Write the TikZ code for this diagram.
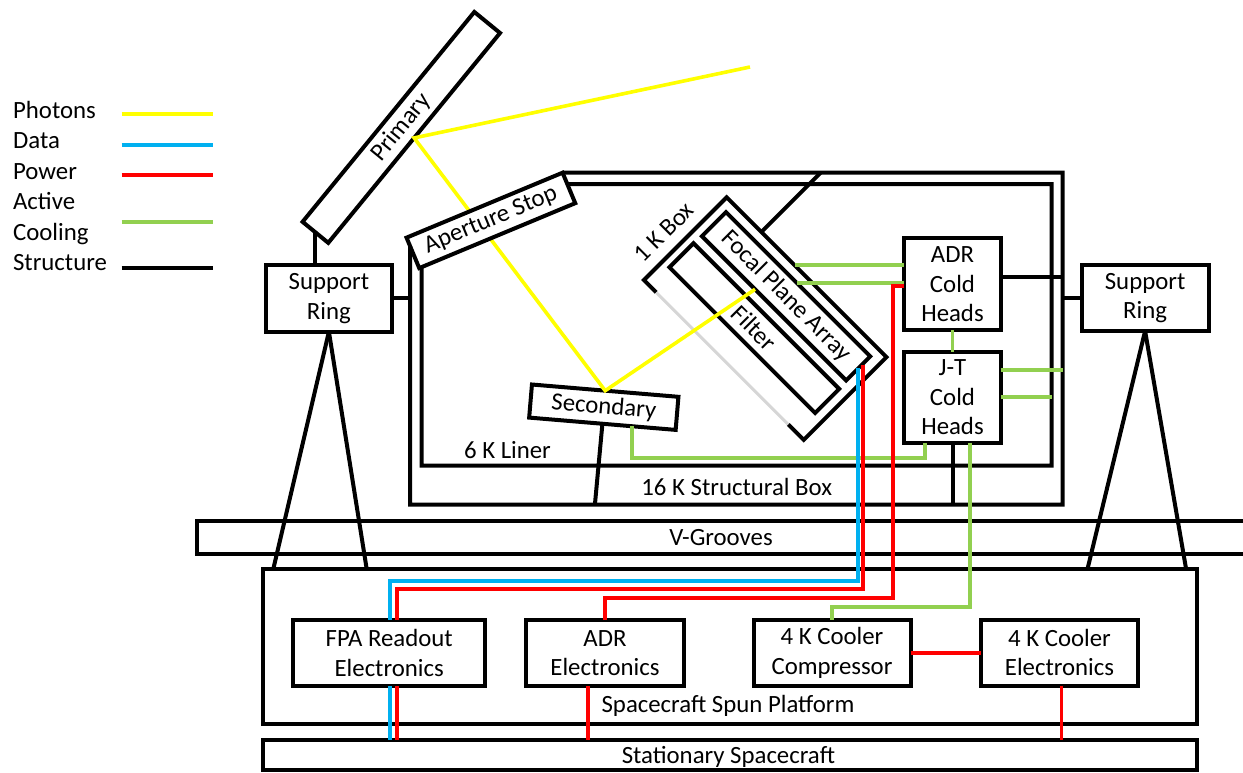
\documentclass[tikz,border=0pt]{standalone}
\usepackage{fontspec}
\setmainfont{Carlito}
\usepackage{tikz}
\usetikzlibrary{calc, positioning}

\definecolor{photonyellow}{HTML}{FFFF00}
\definecolor{datablue}{HTML}{00B0F0}
\definecolor{powerred}{HTML}{FF0000}
\definecolor{coolgreen}{HTML}{92D050}
\definecolor{linergray}{HTML}{D6D6D6}

\begin{document}
\begin{tikzpicture}[
  x=0.5pt, y=-0.5pt,
  every node/.style={font=\fontsize{12.4}{14.8}\selectfont},
  box/.style={draw, line width=2pt, inner sep=0pt, outer sep=0pt, align=center},
  optic/.style={box, fill=white},
  struct/.style={line width=2pt},
  photon/.style={line width=1.8pt, draw=photonyellow},
  data/.style={line width=1.9pt, draw=datablue},
  power/.style={line width=1.9pt, draw=powerred},
  cool/.style={line width=1.9pt, draw=coolgreen},
  liner/.style={line width=1.5pt, draw=linergray},
]
  \useasboundingbox (0,0) rectangle (1243,772);

  % legend
  \foreach \lbl [count=\i] in {Photons,Data,Power,Active,Cooling,Structure}
    \node[anchor=base west, inner sep=0pt] (leg\i) at (12.7,{118.3+30.5*(\i-1)}) {\lbl};
  \foreach \y/\sty in {114/photon,145/data,175/power,221.7/cool,268.3/struct}
    \draw[\sty] (121.7,\y) -- (213.3,\y);

  % support rings and cold heads
  \node[box, minimum width=62.8pt, minimum height=33.3pt] (ringL) at (328.9,298.4) {Support\\Ring};
  \node[box, minimum width=63.5pt, minimum height=33pt] (ringR) at (1145.1,298) {Support\\Ring};
  \node[box, minimum width=48.2pt, minimum height=45.8pt] (adrc) at (952.5,284.2) {ADR\\Cold\\Heads};
  \node[box, minimum width=48.2pt, minimum height=45.5pt] (jt) at (952.5,397.2) {J-T\\Cold\\Heads};

  % platforms
  \node[box, minimum width=536.7pt, minimum height=16.6pt] (vgr) at (733.4,537.7) {};
  \node (vgrlbl) at (721,538) {V-Grooves};
  \node[box, minimum width=466.7pt, minimum height=77.5pt] (spun) at (730,646.5) {};
  \node (spunlbl) at (728,705.7) {Spacecraft Spun Platform};
  \node[box, minimum width=466.7pt, minimum height=15pt] (stat) at (730,755) {};
  \node (statlbl) at (728.4,757) {Stationary Spacecraft};

  \node[box, minimum width=95.9pt, minimum height=33pt] (fparo) at (389.2,653) {FPA Readout\\Electronics};
  \node[box, minimum width=79.2pt, minimum height=33pt] (adre) at (605,653) {ADR\\Electronics};
  \node[box, minimum width=78.5pt, minimum height=33pt] (comp) at (832,653) {4 K Cooler\\Compressor};
  \node[box, minimum width=78.5pt, minimum height=33pt] (coolel) at (1059.5,652.5) {4 K Cooler\\Electronics};

  % 1 K box
  \node[rotate=-45, minimum width=113pt, minimum height=58.5pt, inner sep=0pt, outer sep=0pt] (kbox) at (765.2,318.6) {};
  \node[box, rotate=-45, minimum width=102pt, minimum height=17pt] (fpa) at (786.1,296.3) {Focal Plane Array};
  \node[box, rotate=-45, minimum width=103pt, minimum height=17pt] (filt) at (754.3,328.1) {Filter};
  \draw[struct] ($(kbox.south west)!0.077!(kbox.south east)$) -- (kbox.south west) -- (kbox.north west)
    -- (kbox.north east) -- (kbox.south east) -- ($(kbox.south west)!0.903!(kbox.south east)$);
  \draw[liner] ($(kbox.south west)!0.077!(kbox.south east)$) -- ($(kbox.south west)!0.903!(kbox.south east)$);
  \node[rotate=45] (kboxlbl) at (664,232) {1 K Box};

  % mirrors
  \node[optic, rotate=50.7, minimum width=135.6pt, minimum height=16.6pt] (prim) at (401.3,127.4) {Primary};
  \node[optic, rotate=-4.8, minimum width=73.5pt, minimum height=16.6pt] (sec) at (603.8,407.2) {Secondary};

  % light path
  \coordinate (sky) at (750,67);
  \draw[photon] (sky) -- (prim.south) -- (sec.north) -- ($(fpa.south west)!0.368!(fpa.south east)$);

  \node[optic, rotate=22.6, minimum width=84.5pt, minimum height=16.5pt] (apst) at (490.9,220.4) {Aperture Stop};

  % 16 K box and 6 K liner
  \coordinate (ap-nw) at (apst.north west);
  \coordinate (ap-ne) at (apst.north east);
  \coordinate (ap-se) at (apst.south east);
  \coordinate (ap-sw) at (apst.south west);
  \coordinate (sk-nw) at (410,172.7);
  \coordinate (sk-ne) at (1062.7,172.7);
  \coordinate (sk-se) at (1062.7,504.5);
  \coordinate (sk-sw) at (410,504.5);
  \coordinate (lk-nw) at (421.7,184);
  \coordinate (lk-ne) at (1051.7,184);
  \coordinate (lk-se) at (1051.7,465.7);
  \coordinate (lk-sw) at (421.7,465.7);
  \draw[struct] (ap-ne) -- (ap-ne -| sk-ne) -- (sk-se) -- (sk-sw)
    -- (intersection of sk-sw--sk-nw and ap-nw--ap-sw);
  \draw[struct] (intersection of lk-nw--lk-ne and ap-ne--ap-se) -- (lk-ne) -- (lk-se) -- (lk-sw)
    -- (intersection of lk-sw--lk-nw and ap-sw--ap-se);
  \node (linerlbl) at (507.5,450) {6 K Liner};
  \node (sboxlbl) at (736.7,486.7) {16 K Structural Box};

  % structure links
  \draw[struct] (prim.west) -- (prim.west |- ringL.north);
  \draw[struct] (ringL.east) -- (ringL.east -| sk-nw);
  \draw[struct] (ringR.west) -- (ringR.west -| sk-ne);
  \draw[struct] (ringL.south) -- ([xshift=-27.8pt]ringL.south |- spun.north);
  \draw[struct] (ringL.south) -- ([xshift=18.9pt]ringL.south |- spun.north);
  \draw[struct] (ringR.south) -- ([xshift=-28.8pt]ringR.south |- spun.north);
  \draw[struct] (ringR.south) -- ([xshift=20.5pt]ringR.south |- spun.north);
  \draw[struct] (sec.south) -- ($(sec.south |- sk-sw)+(-7.5,0)$);
  \draw[struct] ($(kbox.north west)!0.217!(kbox.north east)$) -- ++(59.2,-59.2);
  \draw[struct] ([yshift=3.7pt]adrc.east) -- ([yshift=3.7pt]adrc.east -| sk-ne);
  \draw[struct] (jt.south) -- (jt.south |- sk-se);

  % active cooling
  \coordinate (g1) at ($(kbox.north west)!0.425!(kbox.north east)$);
  \coordinate (g2) at ($(fpa.north west)!0.489!(fpa.north east)$);
  \draw[cool] (g1) -- (g1 -| adrc.west);
  \draw[cool] (g2) -- (g2 -| adrc.west);
  \draw[cool] (adrc.south) -- (jt.north);
  \draw[cool] ([yshift=13.6pt]jt.east) -- ([yshift=13.6pt]jt.east -| sk-ne);
  \draw[cool] (jt.east) -- (jt.east -| lk-ne);
  \draw[cool] ($(sec.south west)!0.7!(sec.south east)$) -- ++(0,31.4) -| ([xshift=-13.75pt]jt.south);
  \draw[cool] ([xshift=8.75pt]jt.south) -- ++(0,164) -| (comp.north);

  % data and power
  \draw[data] (fpa.east) -- ++(0,212.6) -| ([xshift=0.5pt]fparo.north);
  \draw[power] ($(fpa.east)+(5,-3)$) -- ++(0,223.9) -| ([xshift=4pt]fparo.north);
  \draw[power] ([yshift=-1pt]adrc.west) -- ++(-11.6,0) -- ++(0,311.6) -| (adre.north);
  \draw[data] ([xshift=0.5pt]fparo.south) -- ([xshift=0.5pt]fparo.south |- stat.north);
  \draw[power] ([xshift=4pt]fparo.south) -- ([xshift=4pt]fparo.south |- stat.north);
  \draw[power] ([xshift=-8.5pt]adre.south) -- ([xshift=-8.5pt]adre.south |- stat.north);
  \draw[power] (comp.east) -- (comp.east -| coolel.west);
  \draw[power] ([xshift=1pt]coolel.south) -- ([xshift=1pt]coolel.south |- stat.north);
\end{tikzpicture}
\end{document}
